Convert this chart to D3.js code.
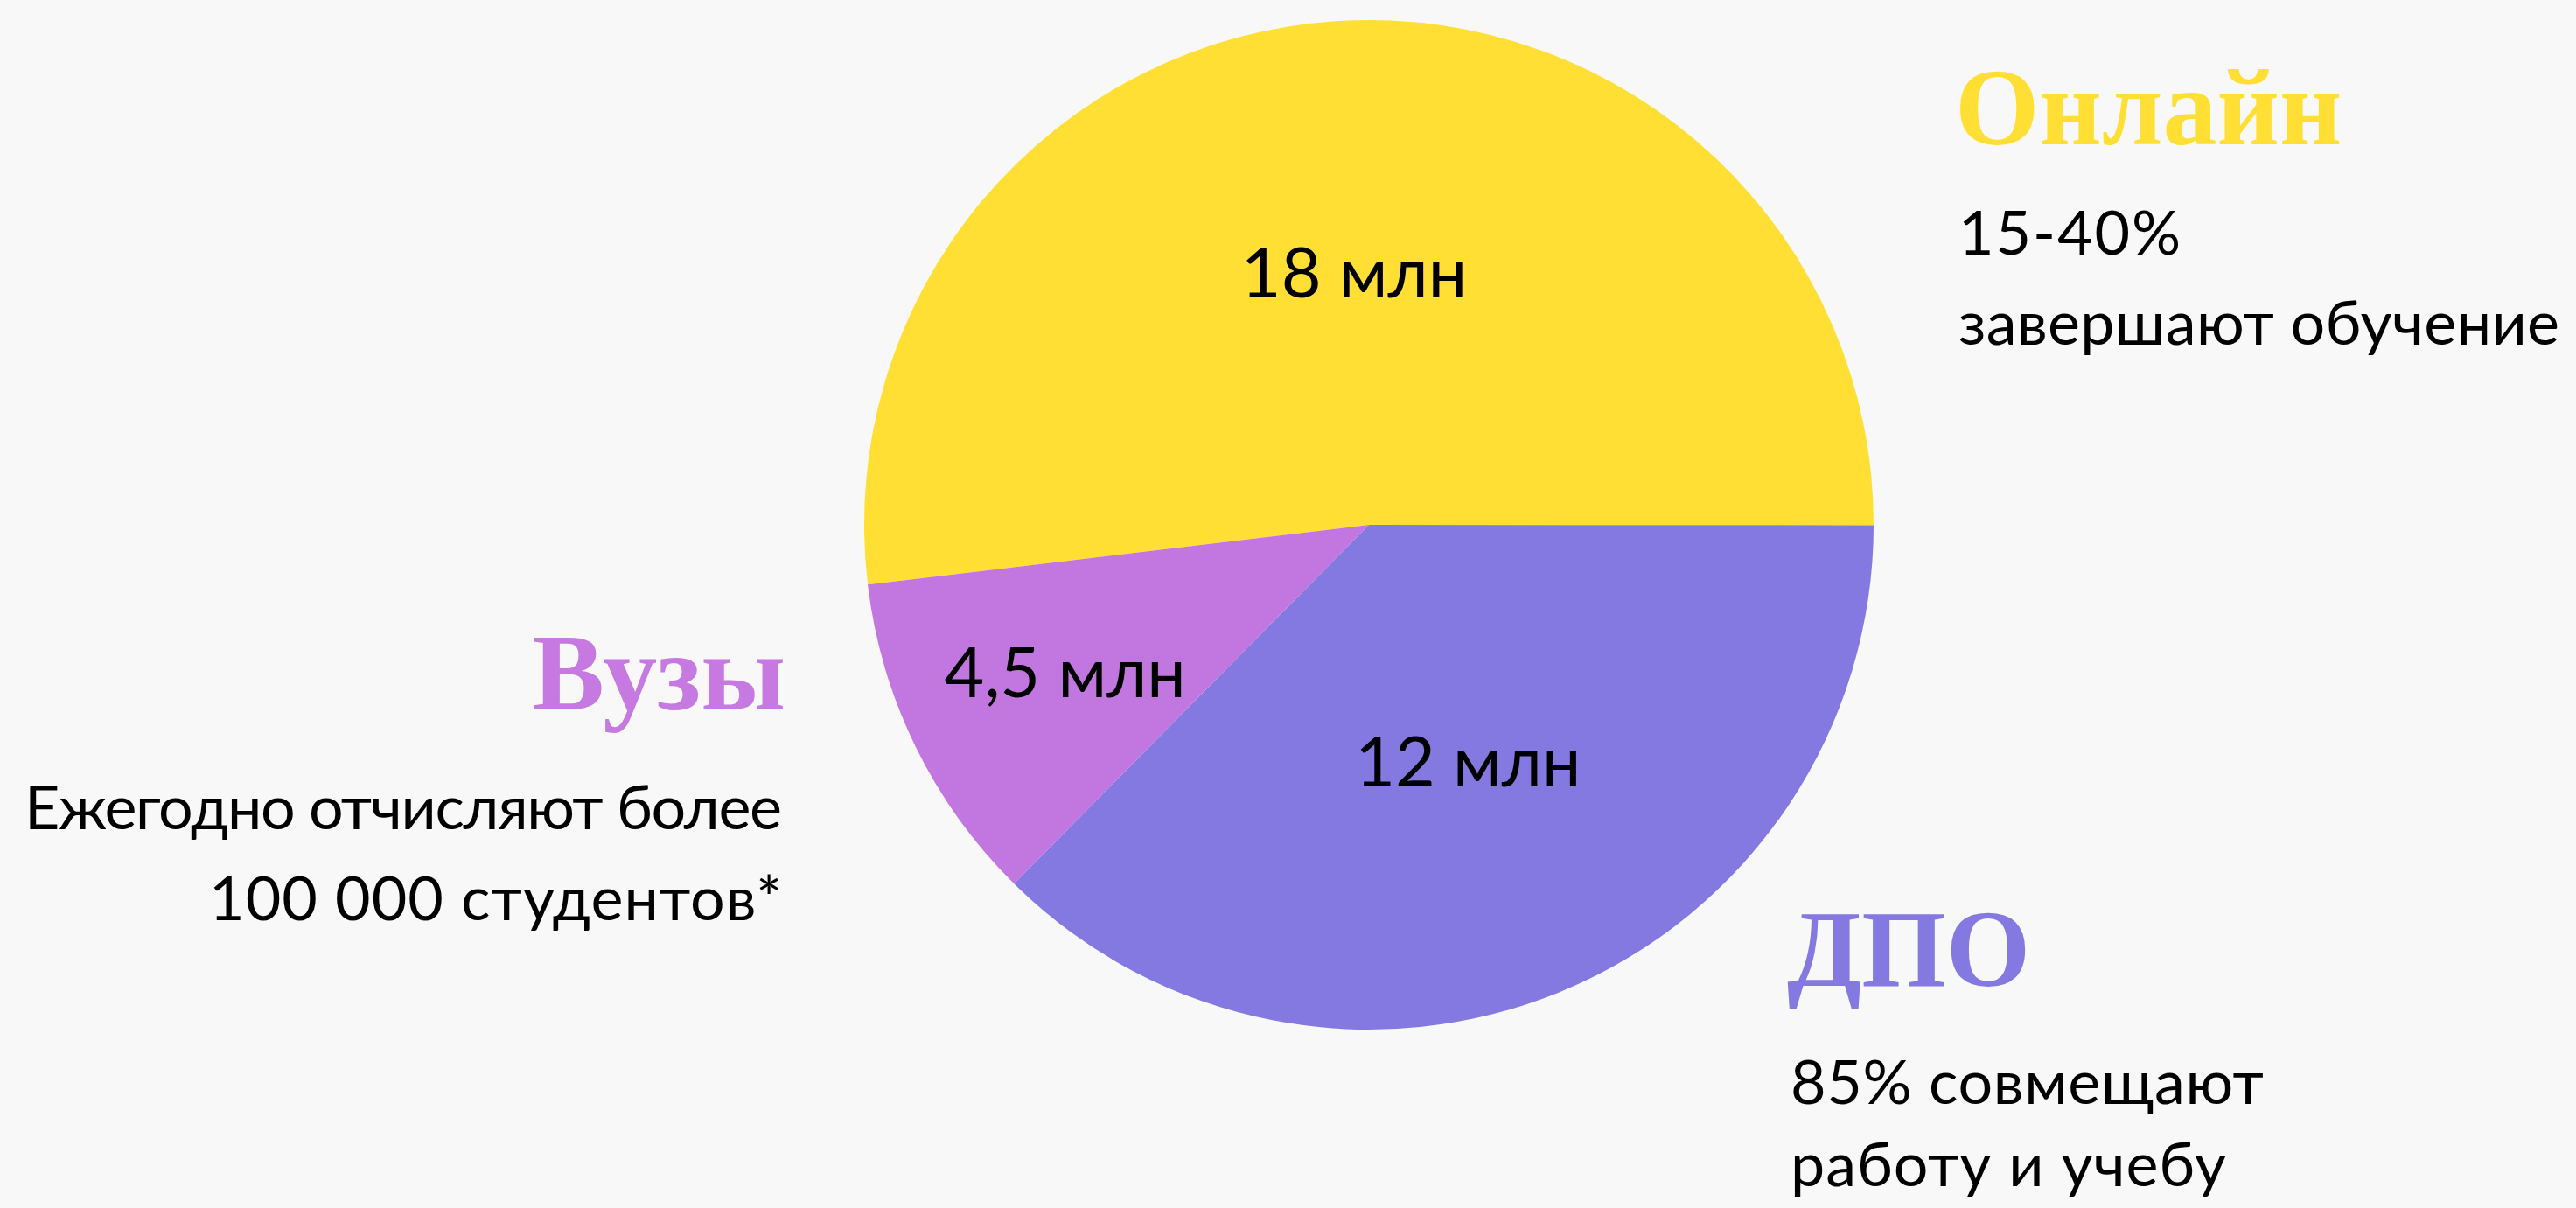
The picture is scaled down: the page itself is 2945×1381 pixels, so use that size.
<!DOCTYPE html>
<html>
<head>
<meta charset="utf-8">
<script src="https://cdn.jsdelivr.net/npm/d3@7"></script>
<style>
  body { margin: 0; background: #f8f8f8; }
  svg { display: block; }
  .title { font-family: "Liberation Serif", "DejaVu Serif", serif; font-weight: bold; }
  .note, .value { font-family: Lato, "Noto Sans", sans-serif; fill: #000; }
</style>
</head>
<body>
<div id="chart-area"></div>
<script>
// slices, in drawing order (clockwise)
var categories = ['Онлайн', 'ДПО', 'Вузы'];
var shares = [51.9, 37.4, 10.7];            // share of the circle
var valueLabels = ['18 млн', '12 млн', '4,5 млн'];
var colors = ['#ffdf33', '#8379e0', '#c276e0'];
var titleColors = ['#ffdf33', '#8379e0', '#c67ae1'];
var notes = [
    ['15-40%', 'завершают обучение'],
    ['85% совмещают', 'работу и учебу'],
    ['Ежегодно отчисляют более', '100 000 студентов*']
];

var width = 2945;
var height = 1381;
var cx = 1565, cy = 600, radius = 577;

var svg = d3.select('#chart-area')
    .append('svg')
    .attr('width', width)
    .attr('height', height);

svg.append('rect')
    .attr('width', width)
    .attr('height', height)
    .attr('fill', '#f8f8f8');

var data = categories.map((c, i) => ({ name: c, value: shares[i], label: valueLabels[i], color: colors[i] }));

var pie = d3.pie()
    .sort(null)
    .value(d => d.value)
    .startAngle(-96.8 * Math.PI / 180)
    .endAngle(263.2 * Math.PI / 180);

var arc = d3.arc().innerRadius(0).outerRadius(radius);

var g = svg.append('g')
    .attr('transform', `translate(${cx}, ${cy})`);

var arcs = pie(data);

g.selectAll('path')
    .data(arcs)
    .enter()
    .append('path')
    .attr('d', arc)
    .attr('fill', d => d.data.color);

// label distance from centre as a share of the radius
var labelRadius = [0.5, 0.51, 0.67];

g.selectAll('.value')
    .data(arcs)
    .enter()
    .append('text')
    .attr('class', 'value')
    .attr('transform', (d, i) => {
        var r = radius * labelRadius[i];
        var a = (d.startAngle + d.endAngle) / 2;
        return `translate(${Math.sin(a) * r}, ${-Math.cos(a) * r})`;
    })
    .attr('text-anchor', 'middle')
    .attr('dy', '0.35em')
    .attr('font-size', '79px')
    .text(d => d.data.label);

// side captions
var captions = [
    { x: 2235, y: 165, anchor: 'start', lines: [291, 394], widths: [254, 687] },
    { x: 2043, y: 1127, anchor: 'start', lines: [1262, 1356], widths: [541, 498] },
    { x: 898, y: 811, anchor: 'end', lines: [948, 1052], widths: [866, 655] }
];

captions.forEach((c, i) => {
    svg.append('text')
        .attr('class', 'title')
        .attr('x', c.x)
        .attr('y', c.y)
        .attr('text-anchor', c.anchor)
        .attr('font-size', '124px')
        .attr('fill', titleColors[i])
        .text(categories[i]);

    notes[i].forEach((line, j) => {
        svg.append('text')
            .attr('class', 'note')
            .attr('x', c.anchor === 'start' ? c.x + 4 : c.x - 4)
            .attr('y', c.lines[j])
            .attr('text-anchor', c.anchor)
            .attr('font-size', '70px')
            .attr('textLength', c.widths[j])
            .attr('lengthAdjust', 'spacing')
            .text(line);
    });
});
</script>
</body>
</html>
